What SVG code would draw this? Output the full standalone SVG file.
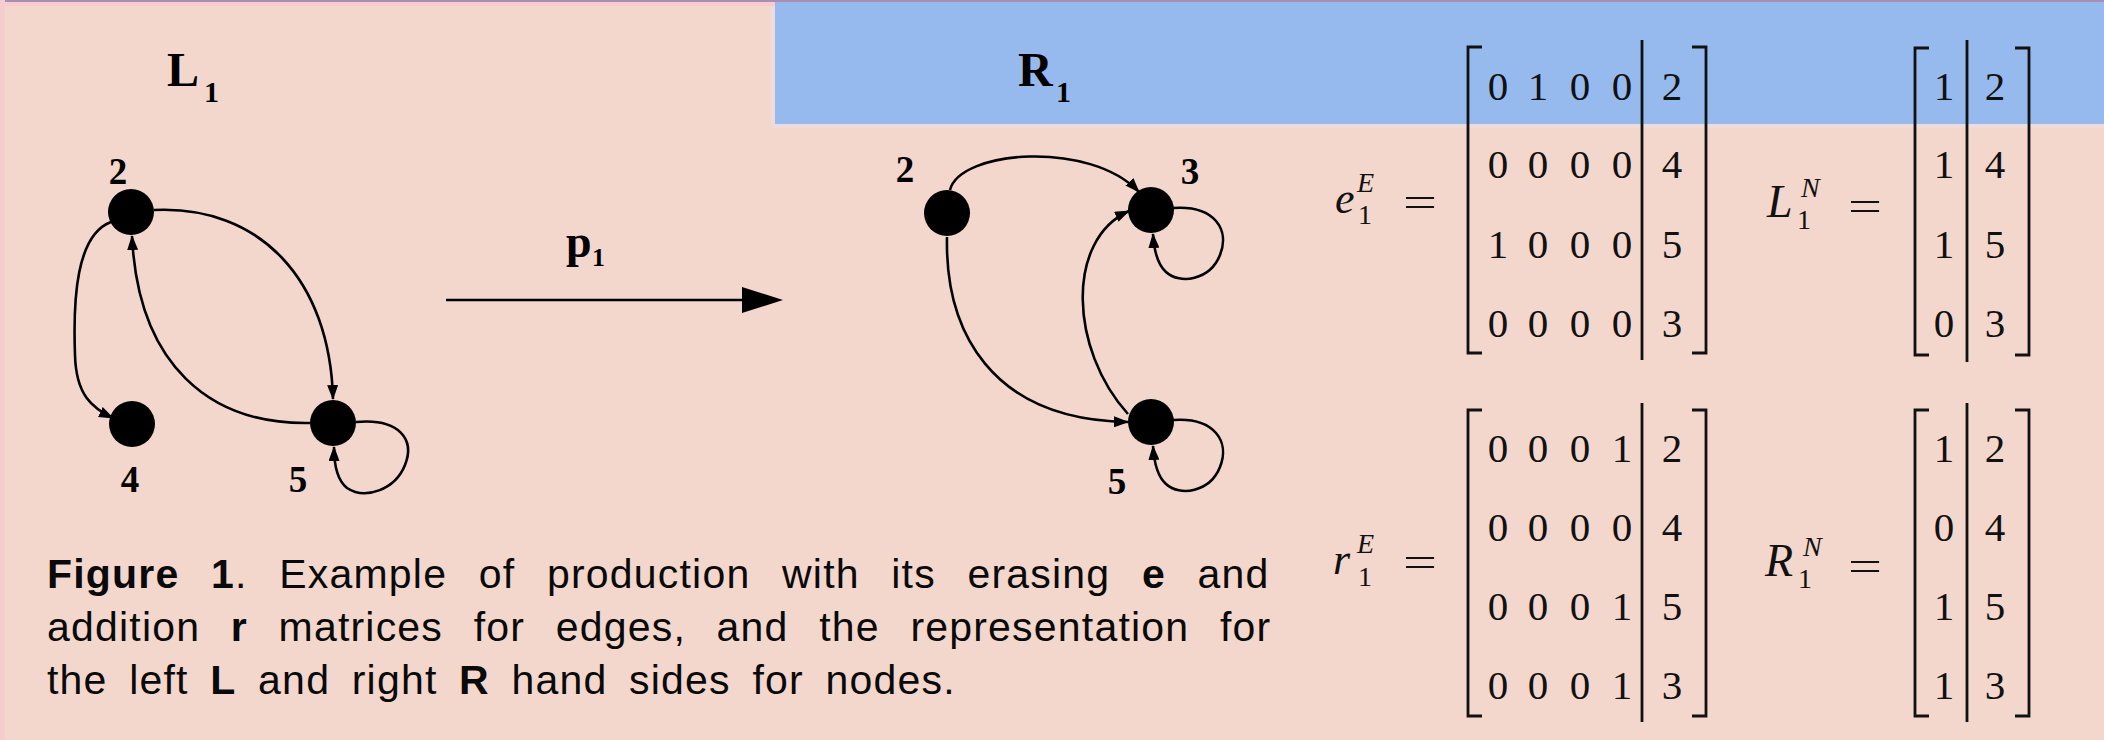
<svg xmlns="http://www.w3.org/2000/svg" width="2104" height="740" viewBox="0 0 2104 740">
<style>
.lbl{font-family:"Liberation Serif",serif;font-weight:bold;font-size:37px;fill:#000;text-anchor:middle}
.ttl{font-family:"Liberation Serif",serif;font-weight:bold;font-size:48px;fill:#000}
.sub{font-family:"Liberation Serif",serif;font-weight:bold;font-size:30px;fill:#000}
.node{fill:#000}
.edge{fill:none;stroke:#000;stroke-width:2.6;marker-end:url(#ah)}
.mx{font-family:"Liberation Serif",serif;font-size:41px;fill:#111;text-anchor:middle}
.mi{font-family:"Liberation Serif",serif;font-style:italic;font-size:44px;fill:#111}
.ms{font-family:"Liberation Serif",serif;font-style:italic;font-size:28px;fill:#111}
.mn{font-family:"Liberation Serif",serif;font-size:28px;fill:#111}
.eq{font-family:"Liberation Serif",serif;font-size:42px;fill:#111}
.br{fill:none;stroke:#111;stroke-width:2.8}
.cap{font-family:"Liberation Sans",Arial,sans-serif;font-size:41px;fill:#0a0a0a;letter-spacing:1.2px}
</style>
<defs>
<marker id="ah" markerUnits="userSpaceOnUse" markerWidth="15" markerHeight="11" refX="14" refY="5.5" orient="auto">
<path d="M0,0 L15,5.5 L0,11 z" fill="#000"/>
</marker>
</defs>
<rect x="0" y="0" width="2104" height="740" fill="#F3D7CC"/>
<rect x="771" y="0" width="1333" height="128" fill="#EEDCDC"/>
<rect x="775" y="0" width="1329" height="124" fill="#97BAEE"/>
<rect x="0" y="0" width="2104" height="2" fill="#A98EB4"/>
<rect x="0" y="2" width="775" height="4" fill="#F8CBCF"/>
<rect x="0" y="0" width="5" height="740" fill="#F6CDCF"/>

<g id="title-L1"><text class="ttl" x="167" y="86">L</text><text class="sub" x="204" y="102">1</text></g>
<g id="title-R1"><text class="ttl" x="1018" y="86">R</text><text class="sub" x="1056" y="102">1</text></g>
<g id="title-p1"><text class="ttl" x="566" y="257" style="font-size:46px">p</text><text class="sub" x="592" y="266" style="font-size:26px">1</text></g>

<g id="connectors">
<path class="edge" d="M111,222 C76,235 73,300 75,355 C76,395 92,408 113,418"/>
<path class="edge" d="M154,210 C260,205 330,280 333,399"/>
<path class="edge" d="M310,423 C210,425 138,365 132,236"/>
<path class="edge" d="M356,422 C400,418 415,440 405,465 C395,490 365,500 347,488 C337,480 334,465 334,447"/>
<path class="edge" d="M950,190 C960,150 1090,140 1139,192"/>
<path class="edge" d="M947,237 C945,330 990,420 1128,422"/>
<path class="edge" d="M1128,414 C1070,350 1065,240 1129,211"/>
<path class="edge" d="M1173,208 C1215,205 1230,230 1220,255 C1210,280 1180,285 1166,272 C1157,264 1154,250 1153,234"/>
<path class="edge" d="M1173,420 C1215,417 1230,442 1220,467 C1210,492 1180,497 1166,484 C1157,476 1154,462 1153,446"/>
<line x1="446" y1="300" x2="745" y2="300" stroke="#000" stroke-width="2.4"/>
<polygon points="742,287 783,300 742,313" fill="#000"/>
</g>

<g id="L-node2"><circle class="node" cx="131" cy="212" r="23"/><text class="lbl" x="118" y="184">2</text></g>
<g id="L-node4"><circle class="node" cx="132" cy="424" r="23"/><text class="lbl" x="130" y="492">4</text></g>
<g id="L-node5"><circle class="node" cx="333" cy="423" r="23"/><text class="lbl" x="298" y="492">5</text></g>
<g id="R-node2"><circle class="node" cx="947" cy="213" r="23"/><text class="lbl" x="905" y="182">2</text></g>
<g id="R-node3"><circle class="node" cx="1151" cy="210" r="23"/><text class="lbl" x="1190" y="184">3</text></g>
<g id="R-node5"><circle class="node" cx="1151" cy="422" r="23"/><text class="lbl" x="1117" y="494">5</text></g>

<g id="matrix-e">
<text class="mi" x="1335" y="213">e</text><text class="ms" x="1357" y="192">E</text><text class="mn" x="1358" y="224">1</text>
<text class="eq" x="1403" y="216" textLength="34" lengthAdjust="spacingAndGlyphs">=</text>
<path class="br" d="M1482,47 H1468 V353 H1482"/>
<path class="br" d="M1692,47 H1706 V353 H1692"/>
<line class="br" x1="1642" y1="40" x2="1642" y2="360"/>
<g class="mx">
<text x="1498" y="100">0</text><text x="1538" y="100">1</text><text x="1580" y="100">0</text><text x="1622" y="100">0</text><text x="1672" y="100">2</text>
<text x="1498" y="178">0</text><text x="1538" y="178">0</text><text x="1580" y="178">0</text><text x="1622" y="178">0</text><text x="1672" y="178">4</text>
<text x="1498" y="258">1</text><text x="1538" y="258">0</text><text x="1580" y="258">0</text><text x="1622" y="258">0</text><text x="1672" y="258">5</text>
<text x="1498" y="337">0</text><text x="1538" y="337">0</text><text x="1580" y="337">0</text><text x="1622" y="337">0</text><text x="1672" y="337">3</text>
</g>
</g>

<g id="matrix-LN">
<text class="mi" x="1767" y="217" style="font-size:46px">L</text><text class="ms" x="1801" y="197">N</text><text class="mn" x="1797" y="229">1</text>
<text class="eq" x="1848" y="220" textLength="34" lengthAdjust="spacingAndGlyphs">=</text>
<path class="br" d="M1929,48 H1915 V355 H1929"/>
<path class="br" d="M2015,48 H2029 V355 H2015"/>
<line class="br" x1="1967" y1="40" x2="1967" y2="362"/>
<g class="mx">
<text x="1944" y="100">1</text><text x="1995" y="100">2</text>
<text x="1944" y="178">1</text><text x="1995" y="178">4</text>
<text x="1944" y="258">1</text><text x="1995" y="258">5</text>
<text x="1944" y="337">0</text><text x="1995" y="337">3</text>
</g>
</g>

<g id="matrix-r">
<text class="mi" x="1333" y="574">r</text><text class="ms" x="1357" y="553">E</text><text class="mn" x="1358" y="586">1</text>
<text class="eq" x="1403" y="576" textLength="34" lengthAdjust="spacingAndGlyphs">=</text>
<path class="br" d="M1482,410 H1468 V716 H1482"/>
<path class="br" d="M1692,410 H1706 V716 H1692"/>
<line class="br" x1="1642" y1="403" x2="1642" y2="722"/>
<g class="mx">
<text x="1498" y="462">0</text><text x="1538" y="462">0</text><text x="1580" y="462">0</text><text x="1622" y="462">1</text><text x="1672" y="462">2</text>
<text x="1498" y="541">0</text><text x="1538" y="541">0</text><text x="1580" y="541">0</text><text x="1622" y="541">0</text><text x="1672" y="541">4</text>
<text x="1498" y="620">0</text><text x="1538" y="620">0</text><text x="1580" y="620">0</text><text x="1622" y="620">1</text><text x="1672" y="620">5</text>
<text x="1498" y="699">0</text><text x="1538" y="699">0</text><text x="1580" y="699">0</text><text x="1622" y="699">1</text><text x="1672" y="699">3</text>
</g>
</g>

<g id="matrix-RN">
<text class="mi" x="1765" y="576" style="font-size:46px">R</text><text class="ms" x="1803" y="556">N</text><text class="mn" x="1798" y="588">1</text>
<text class="eq" x="1848" y="580" textLength="34" lengthAdjust="spacingAndGlyphs">=</text>
<path class="br" d="M1929,410 H1915 V716 H1929"/>
<path class="br" d="M2015,410 H2029 V716 H2015"/>
<line class="br" x1="1967" y1="403" x2="1967" y2="722"/>
<g class="mx">
<text x="1944" y="462">1</text><text x="1995" y="462">2</text>
<text x="1944" y="541">0</text><text x="1995" y="541">4</text>
<text x="1944" y="620">1</text><text x="1995" y="620">5</text>
<text x="1944" y="699">1</text><text x="1995" y="699">3</text>
</g>
</g>

<g id="caption">
<text class="cap" x="47" y="588" word-spacing="19"><tspan font-weight="bold">Figure 1</tspan>. Example of production with its erasing <tspan font-weight="bold">e</tspan> and</text>
<text class="cap" x="47" y="641" word-spacing="18">addition <tspan font-weight="bold">r</tspan> matrices for edges, and the representation for</text>
<text class="cap" x="47" y="694" word-spacing="9">the left <tspan font-weight="bold">L</tspan> and right <tspan font-weight="bold">R</tspan> hand sides for nodes.</text>
</g>
</svg>
